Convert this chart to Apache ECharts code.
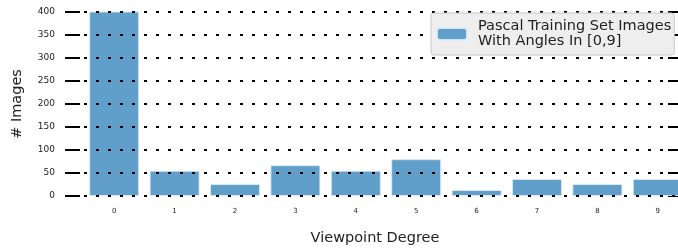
<!DOCTYPE html>
<html>
<head>
<meta charset="utf-8">
<script src="https://cdn.jsdelivr.net/npm/echarts@6/dist/echarts.min.js"></script>
<style>
  html, body { margin: 0; padding: 0; background: #fff; }
  #graph { width: 678px; height: 250px; }
</style>
</head>
<body>
<div id="graph"></div>
<script>
var degrees = ['0', '1', '2', '3', '4', '5', '6', '7', '8', '9'];
var imageCounts = [403, 55, 26, 67, 55, 80, 13, 37, 26, 37];
var yTicks = [0, 50, 100, 150, 200, 250, 300, 350, 400];

var seriesName = 'Pascal Training Set Images\nWith Angles In [0,9]';
var font = 'DejaVu Sans';

var myChart = echarts.init(document.getElementById('graph'));

var option = {
    animation: false,
    textStyle: {fontFamily: font},
    grid: {
        left: 84,
        top: 12,
        width: 604,
        height: 184,
        containLabel: false,
        outerBoundsMode: 'none'
    },
    legend: {
        data: [seriesName],
        left: 431,
        top: 13,
        z: 20,
        padding: [6, 3, 6, 5],
        itemWidth: 30,
        itemHeight: 12,
        itemGap: 5,
        backgroundColor: '#eeeeee',
        borderColor: '#c8c8c8',
        borderWidth: 1,
        borderRadius: 3,
        textStyle: {fontSize: 14.5, color: '#222', lineHeight: 15, fontFamily: font, padding: [0, 0, 0, 6]}
    },
    xAxis: {
        type: 'category',
        data: degrees,
        name: 'Viewpoint Degree',
        nameLocation: 'middle',
        nameGap: 35,
        nameTextStyle: {fontSize: 14.5, color: '#222', fontFamily: font, padding: [0, 22, 0, 0]},
        axisLine: {show: false},
        axisTick: {show: false},
        axisLabel: {fontSize: 7, color: '#222', margin: 12}
    },
    yAxis: [{
        type: 'value',
        min: 0,
        max: 400,
        interval: 50,
        offset: 4,
        z: 5,
        name: '# Images',
        nameLocation: 'middle',
        nameGap: 55,
        nameTextStyle: {fontSize: 14.5, color: '#222', fontFamily: font},
        axisLine: {show: false},
        axisTick: {show: true, length: 15, lineStyle: {color: '#000', width: 2}},
        axisLabel: {fontSize: 9, color: '#222', margin: 25, formatter: function (v) {
            return yTicks.indexOf(v) >= 0 ? String(v) : '';
        }},
        splitLine: {
            show: true,
            lineStyle: {color: '#000', type: [3, 9], width: 2, dashOffset: 0}
        }
    }, {
        type: 'value',
        position: 'right',
        min: 0,
        max: 400,
        interval: 50,
        offset: -10,
        axisLine: {show: false},
        axisTick: {show: true, inside: true, length: 10, lineStyle: {color: '#000', width: 2}},
        axisLabel: {show: false},
        splitLine: {show: false}
    }],
    series: [{
        name: seriesName,
        type: 'bar',
        data: imageCounts,
        barWidth: 50,
        itemStyle: {
            color: '#5f9fca',
            borderColor: 'rgba(220,235,245,0.9)',
            borderWidth: 1
        }
    }]
};

myChart.setOption(option);
</script>
</body>
</html>
